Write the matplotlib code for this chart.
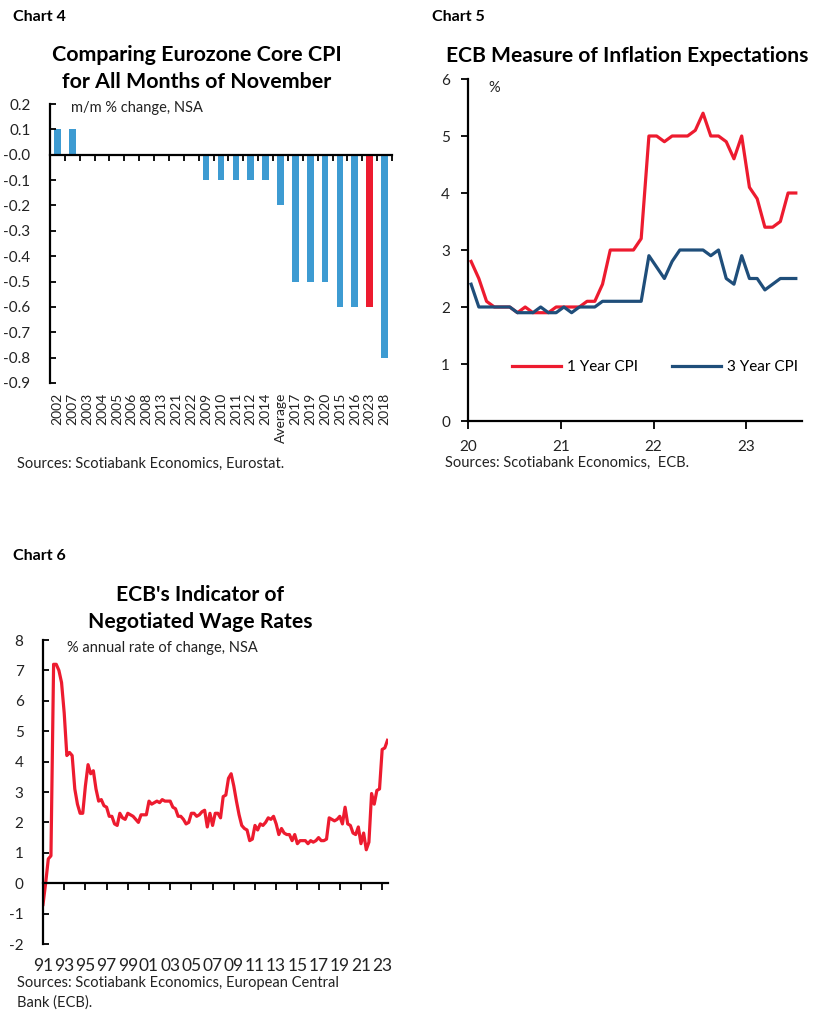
import matplotlib
matplotlib.use("Agg")
import matplotlib.pyplot as plt
import numpy as np

plt.rcParams['font.family'] = ['Lato', 'DejaVu Sans']
plt.rcParams['axes.unicode_minus'] = False

RED = '#ED1B2F'
BLUE = '#1F4E7A'
BAR_BLUE = '#3D9BD2'
TXT = '#222222'

# ---- Chart 4 data: November core CPI m/m, sorted
nov_years = ['2002', '2007', '2003', '2004', '2005', '2006', '2008', '2013', '2021', '2022',
             '2009', '2010', '2011', '2012', '2014', 'Average', '2017', '2019', '2020',
             '2015', '2016', '2023', '2018']
nov_change = [0.1, 0.1, 0.0, 0.0, 0.0, 0.0, 0.0, 0.0, 0.0, 0.0,
              -0.1, -0.1, -0.1, -0.1, -0.1, -0.2, -0.5, -0.5, -0.5,
              -0.6, -0.6, -0.6, -0.8]
highlight = '2023'

# ---- Chart 5 data: monthly, Jan 2020 - Jul 2023
cpi_1y = [2.8, 2.5, 2.1, 2.0, 2.0, 2.0, 1.9, 2.0, 1.9, 1.9, 1.9, 2.0,
          2.0, 2.0, 2.0, 2.1, 2.1, 2.4, 3.0, 3.0, 3.0, 3.0, 3.2, 5.0,
          5.0, 4.9, 5.0, 5.0, 5.0, 5.1, 5.4, 5.0, 5.0, 4.9, 4.6, 5.0,
          4.1, 3.9, 3.4, 3.4, 3.5, 4.0, 4.0]
cpi_3y = [2.4, 2.0, 2.0, 2.0, 2.0, 2.0, 1.9, 1.9, 1.9, 2.0, 1.9, 1.9,
          2.0, 1.9, 2.0, 2.0, 2.0, 2.1, 2.1, 2.1, 2.1, 2.1, 2.1, 2.9,
          2.7, 2.5, 2.8, 3.0, 3.0, 3.0, 3.0, 2.9, 3.0, 2.5, 2.4, 2.9,
          2.5, 2.5, 2.3, 2.4, 2.5, 2.5, 2.5]

# ---- Chart 6 data: quarterly, 1991Q1 - 2023Q3
wages = [-0.7, 0.0, 0.8, 0.9,
         7.2, 7.2, 7.0, 6.6,
         5.6, 4.2, 4.3, 4.2,
         3.1, 2.6, 2.3, 2.3,
         3.2, 3.9, 3.6, 3.7,
         3.1, 2.7, 2.75, 2.55,
         2.5, 2.2, 2.2, 1.95,
         1.9, 2.3, 2.15, 2.1,
         2.3, 2.25, 2.2, 2.1,
         2.0, 2.25, 2.25, 2.25,
         2.7, 2.6, 2.65, 2.7,
         2.65, 2.75, 2.7, 2.7,
         2.7, 2.5, 2.45, 2.2,
         2.2, 2.1, 1.95, 2.0,
         2.3, 2.3, 2.2, 2.25,
         2.35, 2.4, 1.85, 2.3,
         1.9, 2.3, 2.3, 2.15,
         2.85, 2.9, 3.45, 3.6,
         3.2, 2.7, 2.25, 1.9,
         1.8, 1.75, 1.4, 1.45,
         1.9, 1.75, 1.95, 1.9,
         2.0, 2.15, 2.1, 2.2,
         1.95, 1.6, 1.8, 1.65,
         1.6, 1.6, 1.4, 1.6,
         1.3, 1.4, 1.4, 1.4,
         1.3, 1.4, 1.35, 1.4,
         1.5, 1.4, 1.4, 1.45,
         2.15, 2.1, 2.05, 2.1,
         2.2, 1.95, 2.5, 1.95,
         1.9, 1.65, 1.6, 1.85,
         1.3, 1.65, 1.1, 1.35,
         2.95, 2.6, 3.05, 3.1,
         4.4, 4.45, 4.7]
wage_years = [str(y)[2:] for y in range(1991, 2024, 2)]

W, H = 828, 1023
fig = plt.figure(figsize=(W / 100, H / 100), dpi=100)


def px_axes(x0, y0, x1, y1):
    return fig.add_axes([x0 / W, 1 - y1 / H, (x1 - x0) / W, (y1 - y0) / H])


def fig_text(x, y, s, **kw):
    fig.text(x / W, 1 - y / H, s, **kw)


def style(ax):
    for s in ['top', 'right']:
        ax.spines[s].set_visible(False)
    for s in ['left', 'bottom']:
        ax.spines[s].set_linewidth(1.6)
        ax.spines[s].set_color('black')


# ================= Chart 4 =================
fig_text(13, 17, 'Chart 4', fontsize=11.5, fontweight='bold', va='center')
fig_text(197, 55, 'Comparing Eurozone Core CPI', fontsize=15.4, fontweight='bold',
         ha='center', va='center', color='black')
fig_text(197, 82, 'for All Months of November', fontsize=15.4, fontweight='bold',
         ha='center', va='center', color='black')

ax4 = px_axes(50, 104, 392, 383)
style(ax4)
xs = np.arange(len(nov_years))
colors = [RED if y == highlight else BAR_BLUE for y in nov_years]
ax4.bar(xs, nov_change, width=0.45, color=colors)
ax4.set_xlim(-0.5, len(nov_years) - 0.5)
ax4.set_ylim(-0.9, 0.2)
ax4.spines['bottom'].set_position(('data', 0))
ax4.set_xticks(np.arange(len(nov_years) + 1) - 0.5)
ax4.set_xticklabels([])
ax4.tick_params(axis='x', direction='out', length=4, width=1.3)
yt = np.round(np.arange(-0.9, 0.21, 0.1), 1)
ax4.set_yticks(yt)
ax4.set_yticklabels([f'{v:.1f}' for v in yt], fontsize=11, color=TXT)
ax4.tick_params(axis='y', direction='in', length=4, width=1.3, pad=14)
for x, lab in zip(xs, nov_years):
    ax4.text(x, -0.035, lab, transform=ax4.get_xaxis_transform(), rotation=90,
             ha='center', va='top', fontsize=10, color=TXT)
ax4.text(0.06, 0.985, 'm/m % change, NSA', transform=ax4.transAxes, fontsize=10.5,
         va='center', ha='left', color=TXT)
fig_text(17, 464, 'Sources: Scotiabank Economics, Eurostat.', fontsize=10.5,
         va='center', color=TXT)

# ================= Chart 5 =================
fig_text(432, 17, 'Chart 5', fontsize=11.5, fontweight='bold', va='center')
fig_text(627, 56, 'ECB Measure of Inflation Expectations', fontsize=15.1,
         fontweight='bold', ha='center', va='center', color='black')

ax5 = px_axes(468, 79, 802, 421)
style(ax5)
mx = 2020 + (np.arange(len(cpi_1y)) + 0.4) / 12
ax5.plot(mx, cpi_1y, color=RED, lw=2.3, label='1 Year CPI')
ax5.plot(mx, cpi_3y, color=BLUE, lw=2.3, label='3 Year CPI')
ax5.set_xlim(2020, 2023.6)
ax5.set_ylim(0, 6)
ax5.set_xticks([2020, 2021, 2022, 2023])
ax5.set_xticklabels(['20', '21', '22', '23'], fontsize=11, color=TXT)
ax5.set_yticks(range(7))
ax5.set_yticklabels([str(v) for v in range(7)], fontsize=11, color=TXT)
ax5.tick_params(axis='x', direction='out', length=6, width=1.3, pad=8)
ax5.tick_params(axis='y', direction='out', length=5, width=1.3, pad=8)
ax5.text(0.06, 0.975, '%', transform=ax5.transAxes, fontsize=10.5, va='center',
         color=TXT)
ax5.legend(loc='center', bbox_to_anchor=(0.56, 0.157), ncol=2, frameon=False,
           fontsize=11, handlelength=3.2, columnspacing=2.2, handletextpad=0.4)
fig_text(445, 463, 'Sources: Scotiabank Economics,  ECB.', fontsize=10.5,
         va='center', color=TXT)

# ================= Chart 6 =================
fig_text(13, 556, 'Chart 6', fontsize=11.5, fontweight='bold', va='center')
fig_text(200, 595, "ECB's Indicator of", fontsize=15.2, fontweight='bold',
         ha='center', va='center', color='black')
fig_text(200, 622, 'Negotiated Wage Rates', fontsize=15.2, fontweight='bold',
         ha='center', va='center', color='black')

ax6 = px_axes(43, 640, 388, 944)
style(ax6)
qx = 1991 + np.arange(len(wages)) / 4
ax6.plot(qx, wages, color=RED, lw=2.3)
ax6.set_xlim(1991, 2023.55)
ax6.set_ylim(-2, 8)
ax6.spines['bottom'].set_position(('data', 0))
tick_years = np.arange(1991, 2024, 2)
ax6.set_xticks(tick_years)
ax6.set_xticklabels([])
ax6.tick_params(axis='x', direction='out', length=5, width=1.3)
ax6.set_yticks(range(-2, 9))
ax6.set_yticklabels([str(v) for v in range(-2, 9)], fontsize=11, color=TXT)
ax6.tick_params(axis='y', direction='in', length=4, width=1.3, pad=14)
for x, lab in zip(tick_years, wage_years):
    ax6.text(x, -0.045, lab, transform=ax6.get_xaxis_transform(), ha='center',
             va='top', fontsize=12.5, color=TXT)
ax6.text(0.07, 0.975, '% annual rate of change, NSA', transform=ax6.transAxes,
         fontsize=10.5, va='center', color=TXT)
fig_text(17, 983, 'Sources: Scotiabank Economics, European Central', fontsize=10.5,
         va='center', color=TXT)
fig_text(17, 1003, 'Bank (ECB).', fontsize=10.5, va='center', color=TXT)

fig.savefig('out.png', dpi=100)
